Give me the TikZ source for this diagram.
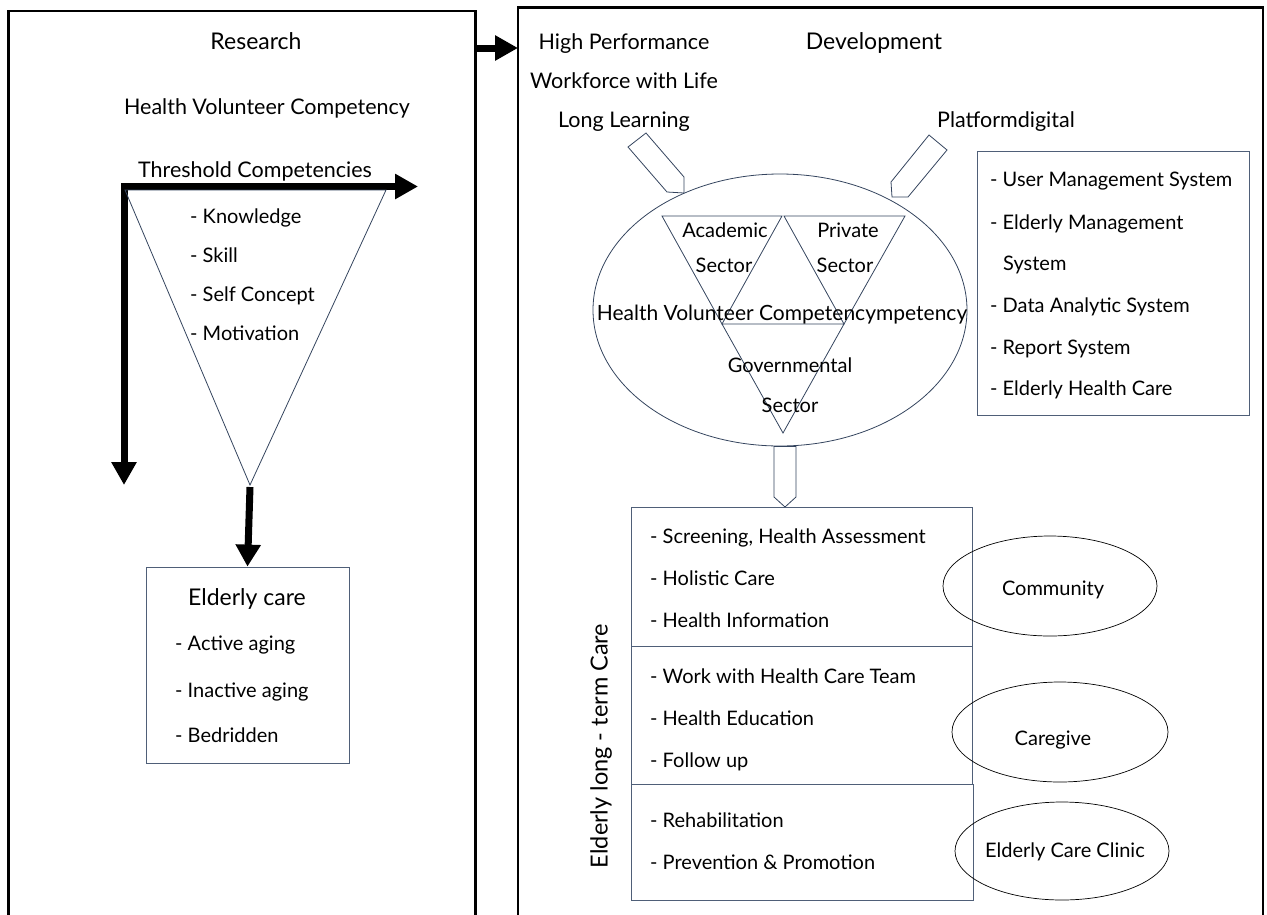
\documentclass[tikz,border=0pt]{standalone}
\usepackage{fontspec}
\setmainfont{Lato}
\usetikzlibrary{arrows.meta,calc,shapes.geometric}
\definecolor{lineblue}{HTML}{34445E}
\definecolor{boxblue}{HTML}{4F5F78}
\tikzset{
  bigbox/.style={draw=black, line width=2.6pt},
  thinline/.style={draw=lineblue, line width=0.8pt},
  txt/.style={inner sep=0pt, yshift=-5pt, font=\fontsize{20}{24}\selectfont},
  ctxt/.style={txt, anchor=mid},
  item/.style={txt, anchor=mid west},
  headA/.style={ctxt, font=\fontsize{23}{27}\selectfont},
  headB/.style={ctxt, font=\fontsize{21.5}{26}\selectfont},
  fatarrow/.style={line width=7pt, -{Triangle[length=23pt,width=24pt]}},
  blockarrow/.style={draw=lineblue, line width=0.8pt, fill=white},
  oval/.style={draw=black, line width=0.7pt},
}
\begin{document}
\begin{tikzpicture}[x=1pt,y=-1pt]
\useasboundingbox (0,0) rectangle (1267,914);
\clip (0,0) rectangle (1267,914);
% ---- frames
\draw[bigbox] (8.5,916) -- (8.5,11) -- (475.5,11) -- (475.5,916);
\draw[bigbox] (518,916) -- (518,7.5) -- (1263,7.5) -- (1263,916);
\coordinate (resR) at (475.5,48);
\coordinate (devL) at (518,48);
\draw[fatarrow] (resR) -- (devL);

% ---- research side
\node[headA] (research) at (256,42) {Research};
\node[headB] (hvc) at (267,107) {Health Volunteer Competency};
\node[headB] (threshold) at (255,170) {Threshold Competencies};
\coordinate (corner) at (124,186.5);
\coordinate (hend) at (418,186.5);
\coordinate (vend) at (124,485);
\draw[line width=7pt, {Triangle[length=23pt,width=24pt]}-{Triangle[length=23pt,width=24pt]}] (vend) -- (corner) -- (hend);
\draw[thinline] (125,190) coordinate (tl) -- (386,190) coordinate (tr) -- (250,485) coordinate (apex) -- cycle;
\node[item] (k1) at (190,216) {- Knowledge};
\node[item] (k2) at (190,255) {- Skill};
\node[item] (k3) at (190,294) {- Self Concept};
\node[item] (k4) at (190,333) {- Motivation};
\coordinate (apexb) at (250,487);
\node[draw=boxblue, line width=0.8pt, minimum width=203pt, minimum height=196pt, inner sep=0pt] (ecare) at (247.5,665) {};
\draw[line width=7pt, -{Triangle[length=22pt,width=24pt]}] (apexb) -- (ecare.north);
\node[headA] (ectitle) at (247,598) {Elderly care};
\node[item] (e1) at (175,643) {- Active aging};
\node[item] (e2) at (175,690) {- Inactive aging};
\node[item] (e3) at (175,735) {- Bedridden};

% ---- development side
\node[headA] (dev) at (874,42) {Development};
\node[headB] (hp1) at (624,42) {High Performance};
\node[headB] (hp2) at (624,81) {Workforce with Life};
\node[headB] (hp3) at (624,120) {Long Learning};
\node[headB] (plat) at (1006,120) {Platformdigital};

\node[draw=boxblue, line width=0.8pt, minimum width=272pt, minimum height=264pt, inner sep=0pt] (platbox) at (1113,283) {};
\node[item] (p1) at (990,179) {- User Management System};
\node[item] (p2) at (990,222) {- Elderly Management};
\node[item] (p2b) at (1003,263) {System};
\node[item] (p3) at (990,305) {- Data Analytic System};
\node[item] (p4) at (990,347) {- Report System};
\node[item] (p5) at (990,388) {- Elderly Health Care};

% central ellipse
\node[draw=lineblue, line width=0.8pt, ellipse, minimum width=374pt, minimum height=272pt, inner sep=0pt] (hub) at (780,310) {};
\draw[thinline] (662,216) -- (782,216) -- (722,324) -- cycle;
\draw[thinline] (784,216) -- (905,216) -- (844,324) -- cycle;
\draw[thinline] (722,324) -- (844,324) -- (783,433) -- cycle;
\node[ctxt] (acad1) at (725,230) {Academic};
\node[ctxt] (acad2) at (724,265) {Sector};
\node[ctxt] (priv1) at (848,230) {Private};
\node[ctxt] (priv2) at (845,265) {Sector};
\node[ctxt, font=\fontsize{21}{25}\selectfont] (hubtext) at (782,313) {Health Volunteer Competencympetency};
\node[ctxt] (gov1) at (790,365) {Governmental};
\node[ctxt] (gov2) at (790,405) {Sector};

% block arrows
\draw[blockarrow] (628,147) -- (646,133) -- (684,177) -- (684,193) -- (667,192) -- cycle;
\draw[blockarrow] (929,135) -- (947,150) -- (908,197) -- (892,197) -- (891,182) -- cycle;
\draw[blockarrow] (hub.south -| 774,0) -- (hub.south -| 796,0) -- (796,497) -- (785,507) -- (774,497) -- cycle;

% stack boxes
\node[draw=boxblue, line width=0.9pt, minimum width=341pt, minimum height=139pt, inner sep=0pt] (s1) at (801.5,576.5) {};
\node[draw=boxblue, line width=0.9pt, minimum width=341pt, minimum height=138pt, inner sep=0pt] (s2) at (801.5,715) {};
\node[draw=boxblue, line width=0.9pt, minimum width=342pt, minimum height=116pt, inner sep=0pt] (s3) at (802,842) {};
\node[item] (a1) at (650,536) {- Screening, Health Assessment};
\node[item] (a2) at (650,578) {- Holistic Care};
\node[item] (a3) at (650,620) {- Health Information};
\node[item] (b1) at (650,676) {- Work with Health Care Team};
\node[item] (b2) at (650,718) {- Health Education};
\node[item] (b3) at (650,760) {- Follow up};
\node[item] (c1) at (650,820) {- Rehabilitation};
\node[item] (c2) at (650,862) {- Prevention \& Promotion};
\node[ctxt, yshift=5pt, rotate=90, font=\fontsize{23.5}{28}\selectfont] (ltc) at (605,746) {Elderly long - term Care};

% ovals
\node[oval, ellipse, minimum width=214pt, minimum height=100pt, inner sep=0pt] (comm) at (1050,586) {};
\node[oval, ellipse, minimum width=216pt, minimum height=100pt, inner sep=0pt] (care) at (1060,732) {};
\node[oval, ellipse, minimum width=214pt, minimum height=98pt, inner sep=0pt] (clinic) at (1062,851) {};
\node[ctxt] (commt) at (1053,588) {Community};
\node[ctxt] (caret) at (1053,738) {Caregive};
\node[ctxt] (clinict) at (1065,850) {Elderly Care Clinic};
\end{tikzpicture}
\end{document}
